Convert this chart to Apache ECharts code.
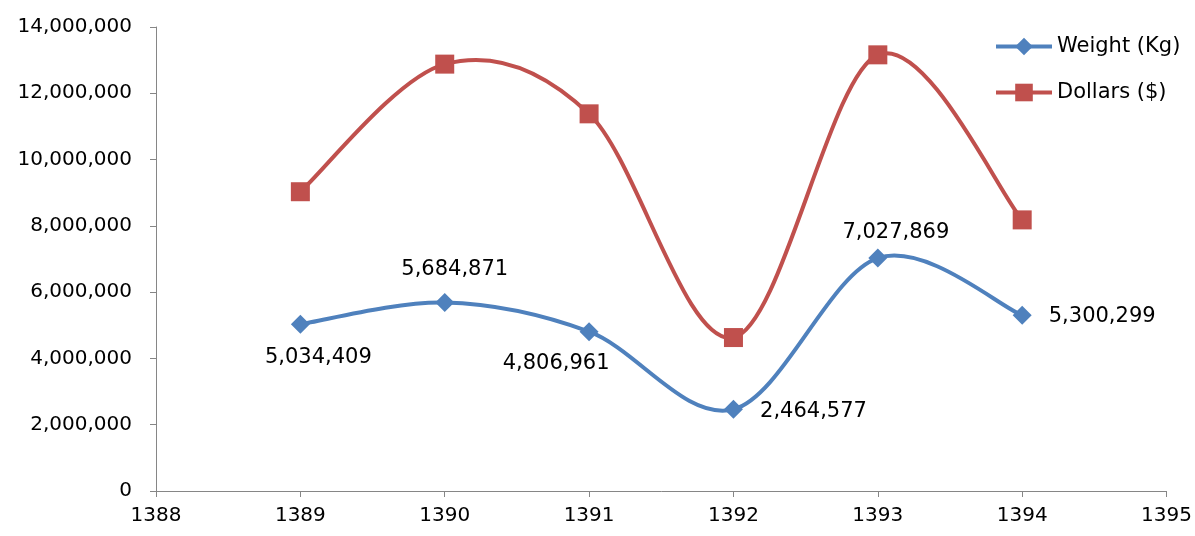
<!DOCTYPE html>
<html>
<head>
<meta charset="utf-8">
<script src="https://cdn.jsdelivr.net/npm/echarts@6/dist/echarts.min.js"></script>
<style>
  html, body { margin: 0; padding: 0; background: #fff; }
  #chart { width: 1195px; height: 536px; }
</style>
</head>
<body>
<div id="chart"></div>
<script>
// data
const years = [1389, 1390, 1391, 1392, 1393, 1394];
const weightKg = [5034409, 5684871, 4806961, 2464577, 7027869, 5300299];
const dollars = [9030000, 12880000, 11380000, 4630000, 13160000, 8180000];
// where each weight label sits relative to its point
const weightLabelOffsets = [[18, 33], [10, -33], [-33, 32], [80, 2], [18, -26], [80, 1]];

const fmt = v => Math.round(v).toLocaleString('en-US');
const axisGrey = '#868686';
const blue = '#4F81BD';
const red = '#C0504D';
const font = 'DejaVu Sans';

// spreadsheet-style smoothed segment (catmull-rom through the points),
// drawn in pixel space from api.coord so it overshoots like the original
function smoothSegment(xs, ys, color) {
  return function (params, api) {
    const i = params.dataIndex;
    const n = xs.length;
    if (i >= n - 1) return null;
    const pt = j => {
      const k = Math.max(0, Math.min(n - 1, j));
      return api.coord([xs[k], ys[k]]);
    };
    const p0 = pt(i - 1), p1 = pt(i), p2 = pt(i + 1), p3 = pt(i + 2);
    const t = 1 / 6;
    return {
      type: 'bezierCurve',
      shape: {
        x1: p1[0], y1: p1[1],
        x2: p2[0], y2: p2[1],
        cpx1: p1[0] + (p2[0] - p0[0]) * t,
        cpy1: p1[1] + (p2[1] - p0[1]) * t,
        cpx2: p2[0] - (p3[0] - p1[0]) * t,
        cpy2: p2[1] - (p3[1] - p1[1]) * t
      },
      style: { stroke: color, lineWidth: 4, fill: null, lineCap: 'round' },
      silent: true
    };
  };
}

const chart = echarts.init(document.getElementById('chart'));

const option = {
  backgroundColor: '#fff',
  animation: false,
  grid: { left: 156, right: 28, top: 27, bottom: 45 },
  legend: {
    orient: 'vertical',
    left: 994,
    top: 36,
    padding: 0,
    itemWidth: 56,
    itemHeight: 22,
    itemGap: 25,
    textStyle: { fontFamily: font, fontSize: 21, color: '#000' },
    data: [
      { name: 'Weight (Kg)', lineStyle: { color: blue, width: 4, opacity: 1 } },
      { name: 'Dollars ($)', lineStyle: { color: red, width: 4, opacity: 1 } }
    ]
  },
  xAxis: {
    type: 'value',
    min: 1388,
    max: 1395,
    interval: 1,
    splitLine: { show: false },
    axisLine: { show: true, lineStyle: { color: axisGrey, width: 1 } },
    axisTick: { show: true, length: 6, lineStyle: { color: axisGrey } },
    axisLabel: { fontFamily: font, fontSize: 20, color: '#000', margin: 15, formatter: v => String(v) }
  },
  yAxis: {
    type: 'value',
    min: 0,
    max: 14000000,
    interval: 2000000,
    splitLine: { show: false },
    axisLine: { show: true, lineStyle: { color: axisGrey, width: 1 } },
    axisTick: { show: true, length: 6, lineStyle: { color: axisGrey } },
    axisLabel: { fontFamily: font, fontSize: 20, color: '#000', margin: 24, formatter: fmt }
  },
  series: [
    {
      type: 'custom',
      renderItem: smoothSegment(years, dollars, red),
      data: years.map((y, i) => [y, dollars[i]]),
      encode: { x: 0, y: 1 },
      z: 1
    },
    {
      type: 'custom',
      renderItem: smoothSegment(years, weightKg, blue),
      data: years.map((y, i) => [y, weightKg[i]]),
      encode: { x: 0, y: 1 },
      z: 1
    },
    {
      name: 'Weight (Kg)',
      type: 'line',
      symbol: 'diamond',
      symbolSize: 19,
      lineStyle: { color: blue, width: 4, opacity: 0 },
      itemStyle: { color: blue },
      z: 3,
      data: years.map((y, i) => ({
        value: [y, weightKg[i]],
        label: {
          show: true,
          position: 'inside',
          offset: weightLabelOffsets[i],
          formatter: p => fmt(p.value[1]),
          fontFamily: font,
          fontSize: 21,
          color: '#000'
        }
      }))
    },
    {
      name: 'Dollars ($)',
      type: 'line',
      symbol: 'rect',
      symbolSize: 19,
      lineStyle: { color: red, width: 4, opacity: 0 },
      itemStyle: { color: red },
      z: 2,
      data: years.map((y, i) => [y, dollars[i]])
    }
  ]
};

chart.setOption(option);
</script>
</body>
</html>
